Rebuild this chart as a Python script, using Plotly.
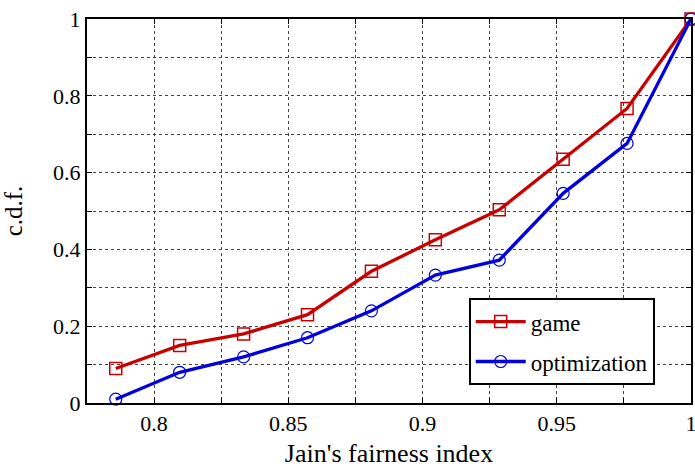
import plotly.graph_objects as go

x_vals = [11/14 + k/42 for k in range(10)]
game = [0.09, 0.15, 0.18, 0.23, 0.343, 0.425, 0.503, 0.635, 0.767, 1.0]
optimization = [0.01, 0.08, 0.12, 0.17, 0.24, 0.333, 0.372, 0.546, 0.676, 1.0]

x_tickvals = [0.775, 0.8, 0.825, 0.85, 0.875, 0.9, 0.925, 0.95, 0.975, 1.0]
x_ticktext = ["", "0.8", "", "0.85", "", "0.9", "", "0.95", "", "1"]
y_tickvals = [0, 0.1, 0.2, 0.3, 0.4, 0.5, 0.6, 0.7, 0.8, 0.9, 1.0]
y_ticktext = ["0", "", "0.2", "", "0.4", "", "0.6", "", "0.8", "", "1"]

RED = "#c80000"
BLUE = "#0000dc"
FONT = "Liberation Serif"

fig = go.Figure()
fig.add_trace(go.Scatter(
    x=x_vals, y=game, mode="lines+markers", name="game", cliponaxis=False,
    legendgroup="g1",
    line=dict(color=RED, width=3.3),
    marker=dict(symbol="square-open", size=12, color=RED, line=dict(width=1.5, color=RED)),
))
fig.add_trace(go.Scatter(
    x=x_vals, y=optimization, mode="lines+markers", name="optimization", cliponaxis=False,
    legendgroup="g2",
    line=dict(color=BLUE, width=3.3),
    marker=dict(symbol="circle-open", size=12, color=BLUE, line=dict(width=1.2, color=BLUE)),
))

axis_common = dict(
    showline=True, linecolor="black", linewidth=2, mirror="ticks",
    ticks="inside", ticklen=5, tickcolor="black", tickwidth=1,
    showgrid=True, gridcolor="#444444", griddash="dot", gridwidth=1,
    zeroline=False, automargin=False, ticklabeloverflow="allow",
    tickfont=dict(family=FONT, size=22, color="black"),
)

fig.update_layout(
    width=695, height=476,
    margin=dict(l=87, r=4, t=19, b=73),
    paper_bgcolor="white", plot_bgcolor="white",
    font=dict(family=FONT, size=22, color="black"),
    xaxis=dict(range=[0.775, 1.0], tickmode="array", tickvals=x_tickvals, ticktext=x_ticktext,
               title=dict(text="Jain's fairness index", font=dict(family=FONT, size=26), standoff=8),
               **axis_common),
    yaxis=dict(range=[0, 1.0], tickmode="array", tickvals=y_tickvals, ticktext=y_ticktext,
               title=dict(text="c.d.f.", font=dict(family=FONT, size=25), standoff=26),
               **axis_common),
    legend=dict(x=0.632, y=0.273, xanchor="left", yanchor="top",
                bgcolor="white", bordercolor="black", borderwidth=2,
                font=dict(family=FONT, size=23, color="black"),
                itemwidth=50, tracegroupgap=7),
    showlegend=True,
)

fig.write_html(
    "out.html",
    config={"displayModeBar": False},
    post_script="document.body.style.margin='0';document.body.style.overflow='hidden';",
)
